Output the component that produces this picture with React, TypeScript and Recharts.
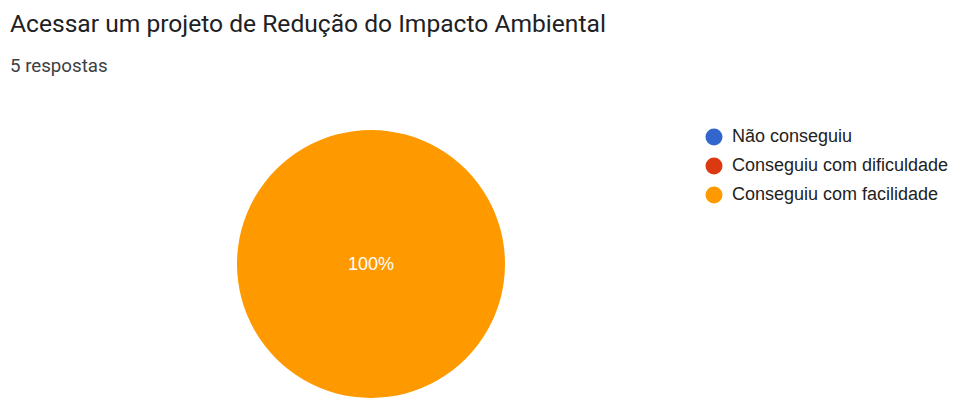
import React from "react";
import { PieChart, Pie, Cell } from "recharts";

const categories = ["Não conseguiu", "Conseguiu com dificuldade", "Conseguiu com facilidade"];
const counts = [0, 0, 5];
const colors = ["#3366cc", "#dc3912", "#ff9900"];
const title = "Acessar um projeto de Redução do Impacto Ambiental";
const subtitle = "5 respostas";

const data = categories.map((name, i) => ({ name, value: counts[i] }));

const renderLabel = (props: any) => {
  const { cx, cy, midAngle, innerRadius, outerRadius, percent } = props;
  if (!percent) return null;
  let x = cx;
  let y = cy;
  if (percent < 1) {
    const r = (innerRadius + outerRadius) / 2;
    const rad = (-midAngle * Math.PI) / 180;
    x = cx + r * Math.cos(rad);
    y = cy + r * Math.sin(rad);
  }
  return (
    <text
      x={x}
      y={y}
      fill="#ffffff"
      textAnchor="middle"
      dominantBaseline="central"
      fontFamily="'Liberation Sans', Arial, sans-serif"
      fontSize={18}
    >
      {`${Math.round(percent * 100)}%`}
    </text>
  );
};

export default function App() {
  return (
    <div style={{ position: "absolute", left: 0, top: 0, width: 964, height: 420, background: "#ffffff" }}>
      <div
        style={{
          position: "absolute",
          left: 10,
          top: 8,
          fontFamily: "Roboto, sans-serif",
          fontSize: 24.6,
          color: "#202124",
          whiteSpace: "nowrap",
          lineHeight: "32px",
        }}
      >
        {title}
      </div>
      <div
        style={{
          position: "absolute",
          left: 10,
          top: 54,
          fontFamily: "Roboto, sans-serif",
          fontSize: 18.7,
          color: "#3c4043",
          whiteSpace: "nowrap",
          lineHeight: "24px",
        }}
      >
        {subtitle}
      </div>
      <PieChart
        width={964}
        height={420}
        margin={{ top: 0, right: 0, bottom: 0, left: 0 }}
        style={{ position: "absolute", left: 0, top: 0 }}
      >
        <Pie
          data={data}
          dataKey="value"
          nameKey="name"
          cx={371}
          cy={264}
          outerRadius={134}
          startAngle={90}
          endAngle={-270}
          stroke="none"
          label={renderLabel}
          labelLine={false}
          isAnimationActive={false}
        >
          {data.map((d, i) => (
            <Cell key={d.name} fill={colors[i]} />
          ))}
        </Pie>
      </PieChart>
      <div
        style={{
          position: "absolute",
          left: 705,
          top: 122,
          fontFamily: "'Liberation Sans', Arial, sans-serif",
          fontSize: 18,
          color: "#222222",
        }}
      >
        {categories.map((name, i) => (
          <div key={name} style={{ display: "flex", alignItems: "center", height: 29 }}>
            <svg width={18} height={18} style={{ marginRight: 9 }}>
              <circle cx={9} cy={9} r={8.5} fill={colors[i]} />
            </svg>
            <span>{name}</span>
          </div>
        ))}
      </div>
    </div>
  );
}
